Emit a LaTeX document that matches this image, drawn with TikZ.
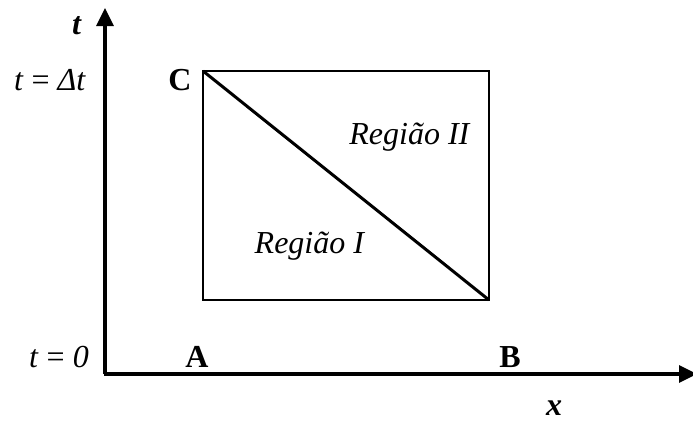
\documentclass[tikz,border=0pt]{standalone}
\usepackage{fontspec}
\setmainfont{Liberation Serif}
\usetikzlibrary{arrows.meta}
\begin{document}
\begin{tikzpicture}[x=1pt,y=-1pt,
  lbl/.style={font=\fontsize{32}{38}\selectfont, inner sep=0pt, anchor=center},
  axis/.style={line width=3.2pt, -{Triangle[length=18pt,width=17pt]}},
  box/.style={line width=1.3pt},
  diag/.style={line width=3pt}]
\useasboundingbox (0,0) rectangle (693,423);
% axes
\coordinate (O) at (105,374);
\coordinate (T) at (105,8);
\coordinate (X) at (697,374);
\draw[axis] (O) -- (T);
\draw[axis] ([xshift=-1.5pt]O) -- (X);
% rectangle
\coordinate (c) at (203,71);
\coordinate (b) at (489,300);
\draw[box] (c) rectangle (b);
\draw[diag] (c) -- (b);
% labels
\node[lbl] (tlab) at (77,26) {\textbf{\textit{t}}};
\node[lbl] (tdt) at (50,80) {\textit{t} = \textit{Δt}};
\node[lbl] (C) at (180,80) {\textbf{C}};
\node[lbl] (t0) at (59,357) {\textit{t} = \textit{0}};
\node[lbl] (A) at (197,357) {\textbf{A}};
\node[lbl] (B) at (510,357) {\textbf{B}};
\node[lbl] (xlab) at (554,408) {\textbf{\textit{x}}};
\node[lbl] (r2) at (410,137) {\textit{Região II}};
\node[lbl] (r1) at (310,246) {\textit{Região I}};
\end{tikzpicture}
\end{document}
